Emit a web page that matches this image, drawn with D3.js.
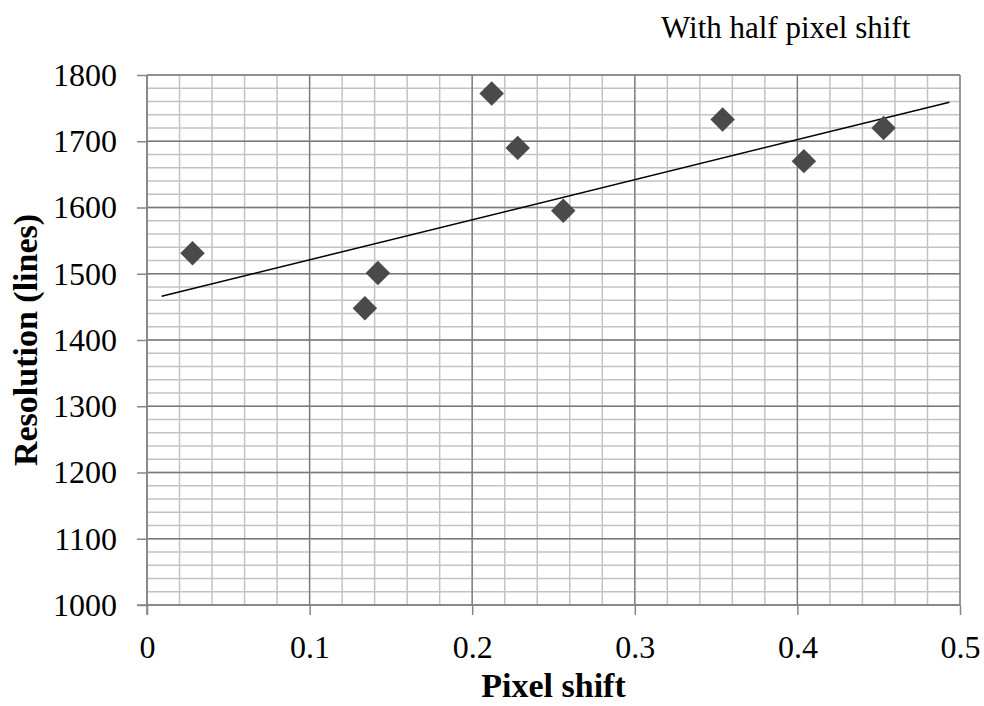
<!DOCTYPE html>
<html>
<head>
<meta charset="utf-8">
<script src="https://cdn.jsdelivr.net/npm/d3@7"></script>
<style>
  html, body { margin: 0; padding: 0; background: #fff; }
  svg { display: block; font-family: "Liberation Serif", "Times New Roman", serif; }
</style>
</head>
<body>
<svg id="chart" width="984" height="706"></svg>
<script>
// ---- data ----
const pixelShift = [0.028, 0.134, 0.142, 0.212, 0.228, 0.256, 0.354, 0.404, 0.453];
const resolution = [1531, 1448, 1501, 1772, 1690, 1595, 1733, 1670, 1720];
const trendX = [0.009, 0.4935];
const trendY = [1466, 1759];
const xTicks = [0, 0.1, 0.2, 0.3, 0.4, 0.5];
const yTicks = [1000, 1100, 1200, 1300, 1400, 1500, 1600, 1700, 1800];
const xTitle = "Pixel shift";
const yTitle = "Resolution (lines)";
const chartTitle = "With half pixel shift";

// ---- layout ----
const svg = d3.select("#chart");
const x = d3.scaleLinear().domain([0, 0.5]).range([147, 960]);
const y = d3.scaleLinear().domain([1000, 1800]).range([605, 75]);

const minorX = d3.range(0, 0.5001, 0.02);
const minorY = d3.range(1000, 1800.1, 20);

const g = svg.append("g");

// minor grid
g.append("g").selectAll("line").data(minorX).join("line")
  .attr("x1", d => x(d)).attr("x2", d => x(d))
  .attr("y1", y(1000)).attr("y2", y(1800))
  .attr("stroke", "#c3c3c3").attr("stroke-width", 1.5);
g.append("g").selectAll("line").data(minorY).join("line")
  .attr("y1", d => y(d)).attr("y2", d => y(d))
  .attr("x1", x(0)).attr("x2", x(0.5))
  .attr("stroke", "#c3c3c3").attr("stroke-width", 1.5);

// major grid
g.append("g").selectAll("line").data(xTicks).join("line")
  .attr("x1", d => x(d)).attr("x2", d => x(d))
  .attr("y1", y(1000)).attr("y2", y(1800))
  .attr("stroke", "#7a7a7a").attr("stroke-width", 1.3);
g.append("g").selectAll("line").data(yTicks).join("line")
  .attr("y1", d => y(d)).attr("y2", d => y(d))
  .attr("x1", x(0)).attr("x2", x(0.5))
  .attr("stroke", "#7a7a7a").attr("stroke-width", 1.3);

// axes
const xAxis = d3.axisBottom(x).tickValues(xTicks).tickSize(10).tickPadding(20)
  .tickFormat(d => d === 0 ? "0" : d3.format(".1f")(d));
const yAxis = d3.axisLeft(y).tickValues(yTicks).tickSize(10).tickPadding(20)
  .tickFormat(d3.format("d"));

const gx = svg.append("g").attr("transform", `translate(0,${y(1000)})`).call(xAxis);
const gy = svg.append("g").attr("transform", `translate(${x(0)},0)`).call(yAxis);
[gx, gy].forEach(a => {
  a.select(".domain").attr("stroke", "#868686").attr("stroke-width", 1.5);
  a.selectAll(".tick line").attr("stroke", "#868686").attr("stroke-width", 1.5);
  a.selectAll(".tick text").attr("fill", "#000")
    .style("font-family", '"Liberation Serif", serif').style("font-size", "32px");
});
gx.select(".domain").attr("d", `M${x(0) - 10},0H${x(0.5)}`);
gy.select(".domain").attr("d", `M0,${y(1800)}V${y(1000) + 10}`);

// trend line
svg.append("line")
  .attr("x1", x(trendX[0])).attr("y1", y(trendY[0]))
  .attr("x2", x(trendX[1])).attr("y2", y(trendY[1]))
  .attr("stroke", "#000").attr("stroke-width", 1.5);

// markers
const pts = pixelShift.map((d, i) => ({ x: d, y: resolution[i] }));
const sym = d3.symbol().type(d3.symbolSquare).size(300);
svg.append("g").selectAll("path").data(pts).join("path")
  .attr("d", sym)
  .attr("transform", d => `translate(${x(d.x)},${y(d.y)}) rotate(45)`)
  .attr("fill", "#4a4a4a");

// titles
svg.append("text")
  .attr("x", (x(0) + x(0.5)) / 2).attr("y", 697)
  .attr("text-anchor", "middle")
  .style("font-size", "34px").style("font-weight", "bold")
  .text(xTitle);

svg.append("text")
  .attr("transform", `translate(37,${(y(1000) + y(1800)) / 2}) rotate(-90)`)
  .attr("text-anchor", "middle")
  .style("font-size", "34px").style("font-weight", "bold")
  .text(yTitle);

svg.append("text")
  .attr("x", 661).attr("y", 38)
  .style("font-size", "31px")
  .text(chartTitle);
</script>
</body>
</html>
